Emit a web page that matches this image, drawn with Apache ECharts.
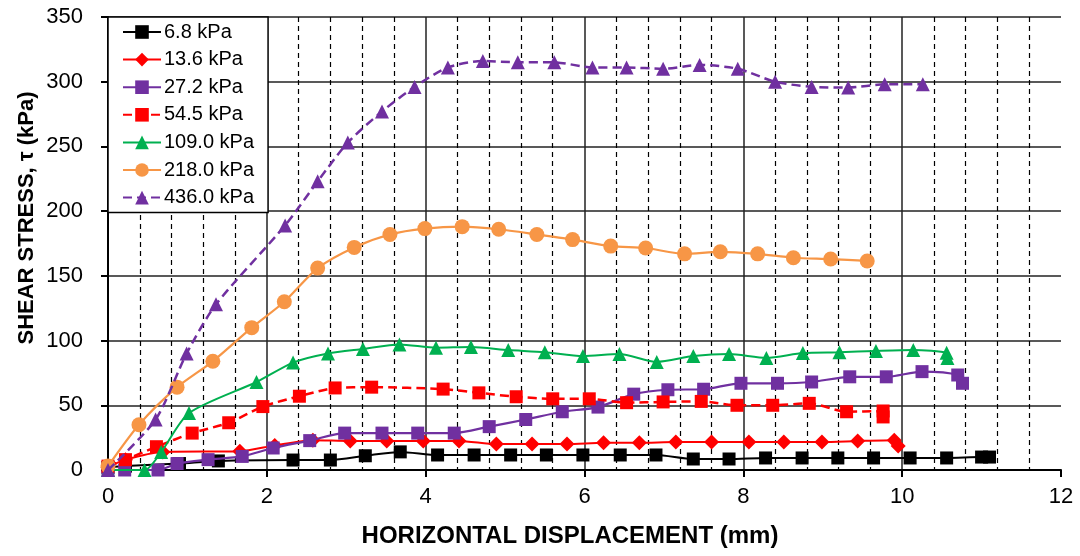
<!DOCTYPE html>
<html>
<head>
<meta charset="utf-8">
<title>Shear stress vs horizontal displacement</title>
<script src="https://cdn.jsdelivr.net/npm/echarts@6/dist/echarts.min.js"></script>
<style>
  html, body { margin: 0; padding: 0; background: #fff; }
  #chart { width: 1080px; height: 556px; }
</style>
</head>
<body>
<div id="chart"></div>
<script>
// Normal stress levels (legend labels)
const seriesNames = ['6.8 kPa', '13.6 kPa', '27.2 kPa', '54.5 kPa', '109.0 kPa', '218.0 kPa', '436.0 kPa'];

// [horizontal displacement (mm), shear stress (kPa)]
const s6_8 = [[0,2],[0.22,3],[0.9,5],[1.39,7],[2.33,7.7],[2.8,7.7],[3.24,11],[3.68,14],[4.15,11.6],[4.61,11.6],[5.07,11.6],[5.52,11.6],[5.98,11.6],[6.45,11.6],[6.9,11.6],[7.37,8.5],[7.82,8.5],[8.28,9.3],[8.74,9.3],[9.19,9.3],[9.64,9.3],[10.1,9.3],[10.56,9.3],[11.0,10],[11.1,10]];
const s13_6 = [[0,2],[0.22,8],[0.69,14],[1.66,14.5],[2.1,19],[2.58,23],[3.05,22.5],[3.51,22.5],[3.97,22.5],[4.42,22.5],[4.89,20],[5.34,20],[5.78,20],[6.24,21],[6.69,21],[7.15,21.6],[7.6,21.6],[8.07,21.6],[8.51,21.6],[8.99,21.6],[9.44,22.4],[9.9,23],[9.95,18.5]];
const s27_2 = [[0,0],[0.21,0],[0.63,0],[0.87,5],[1.26,8],[1.69,10.5],[2.08,17],[2.54,22.7],[2.98,28.5],[3.45,28.5],[3.9,28.5],[4.36,28.5],[4.8,33.5],[5.26,39],[5.72,45],[6.17,48.6],[6.62,58.6],[7.05,62],[7.5,62.4],[7.97,67],[8.43,67],[8.86,68],[9.34,72],[9.8,72],[10.25,76],[10.7,73.4],[10.76,67]];
const s54_5 = [[0,3],[0.22,8],[0.61,18],[1.06,28.5],[1.52,36.5],[1.95,49],[2.41,57],[2.86,63.4],[3.32,64],[4.22,62.5],[4.67,59.6],[5.14,56.6],[5.6,55],[6.06,55],[6.53,52],[6.99,52.6],[7.47,53],[7.92,50],[8.37,50],[8.83,51.5],[9.3,45],[9.76,45.6],[9.76,41]];
const s109_0 = [[0,0],[0.46,0],[0.67,14],[1.02,44],[1.87,68],[2.33,83],[2.77,90],[3.21,93.5],[3.67,97],[4.13,94.5],[4.57,95],[5.04,92.7],[5.5,91],[5.98,88],[6.44,89.6],[6.91,83.5],[7.37,88],[7.82,89.6],[8.29,86.6],[8.75,90.4],[9.21,91],[9.67,92],[10.14,92.7],[10.56,90.5],[10.57,86.6]];
const s218_0 = [[0,3],[0.39,35],[0.87,64],[1.32,84],[1.81,110],[2.22,130],[2.64,156],[3.1,172],[3.55,182],[3.99,186.5],[4.46,188],[4.92,186],[5.4,182],[5.85,178],[6.33,173],[6.77,171.5],[7.26,167],[7.71,168.6],[8.18,167],[8.63,164],[9.1,163],[9.56,161.5]];
const s436_0 = [[0,0],[0.6,39],[0.99,90],[1.36,128],[2.23,189],[2.64,223],[3.02,253],[3.45,277],[3.86,296],[4.28,311],[4.72,316],[5.16,315],[5.62,315],[6.1,311],[6.53,311],[6.99,310],[7.45,313],[7.93,310],[8.4,300],[8.86,296],[9.32,295.5],[9.78,298],[10.26,298]];

// Axis ticks
const xTicks = { min: 0, max: 12, interval: 2 };
const yTicks = { min: 0, max: 350, interval: 50 };

const FONT = '"Liberation Sans", Arial, sans-serif';

const styles = [
  { color: '#000000', symbol: 'rect', size: 13, dash: 'solid', width: 2 },
  { color: '#ff0000', symbol: 'diamond', size: 15, dash: 'solid', width: 2 },
  { color: '#7030a0', symbol: 'rect', size: 13, dash: 'solid', width: 2.2 },
  { color: '#ff0000', symbol: 'rect', size: 13, dash: [9, 5], width: 2.5 },
  { color: '#00b050', symbol: 'triangle', size: 14, dash: 'solid', width: 2 },
  { color: '#f79646', symbol: 'circle', size: 15, dash: 'solid', width: 2.2 },
  { color: '#7030a0', symbol: 'triangle', size: 14, dash: [9, 5], width: 2.5 }
];
const dataSets = [s6_8, s13_6, s27_2, s54_5, s109_0, s218_0, s436_0];

const chart = echarts.init(document.getElementById('chart'), null, { renderer: 'canvas' });

const series = dataSets.map((d, i) => ({
  name: seriesNames[i],
  type: 'line',
  data: d,
  symbol: styles[i].symbol,
  symbolSize: styles[i].size,
  showAllSymbol: true,
  smooth: 0.25,
  clip: false,
  lineStyle: { color: styles[i].color, width: styles[i].width, type: styles[i].dash },
  itemStyle: { color: styles[i].color, borderWidth: 0 },
  emphasis: { disabled: true },
  z: 2 + i
}));

chart.setOption({
  animation: false,
  backgroundColor: '#ffffff',
  grid: { left: 108, right: 19, top: 17, bottom: 86, containLabel: false },
  xAxis: {
    type: 'value',
    min: xTicks.min, max: xTicks.max, interval: xTicks.interval,
    axisLine: { show: true, onZero: false, lineStyle: { color: '#000', width: 2 } },
    axisTick: { show: true, length: 7, lineStyle: { color: '#000', width: 2 } },
    axisLabel: { color: '#000', fontSize: 22, fontFamily: FONT, margin: 16 },
    splitLine: { show: true, showMinLine: false, showMaxLine: false, lineStyle: { color: '#222', width: 1.5 } },
    minorTick: { show: false, splitNumber: 5 },
    minorSplitLine: { show: true, lineStyle: { color: '#000', width: 1.2, type: [5, 4] } }
  },
  yAxis: {
    type: 'value',
    min: yTicks.min, max: yTicks.max, interval: yTicks.interval,
    axisLine: { show: true, onZero: false, lineStyle: { color: '#000', width: 2 } },
    axisTick: { show: true, length: 7, lineStyle: { color: '#000', width: 2 } },
    axisLabel: { color: '#000', fontSize: 22, fontFamily: FONT, margin: 25 },
    splitLine: { show: true, showMinLine: false, lineStyle: { color: '#222', width: 1.5 } }
  },
  legend: {
    orient: 'vertical',
    left: 108, top: 17,
    padding: [5, 14, 5, 14],
    itemWidth: 38, itemHeight: 17, itemGap: 7.6,
    backgroundColor: '#ffffff',
    borderColor: '#000', borderWidth: 1.5, borderRadius: 0,
    textStyle: { color: '#000', fontSize: 20, fontFamily: FONT, padding: [0, 0, 0, -2] },
    data: seriesNames,
    selectedMode: false,
    z: 10
  },
  graphic: [
    {
      type: 'text', x: 570, y: 524,
      style: { text: 'HORIZONTAL DISPLACEMENT (mm)', fill: '#000', font: 'bold 24px ' + FONT, align: 'center', verticalAlign: 'top' }
    },
    {
      type: 'text', x: 16, y: 218, rotation: Math.PI / 2,
      style: { text: 'SHEAR STRESS, τ (kPa)', fill: '#000', font: 'bold 22px ' + FONT, align: 'center', verticalAlign: 'top' }
    }
  ],
  series: series
});
</script>
</body>
</html>
